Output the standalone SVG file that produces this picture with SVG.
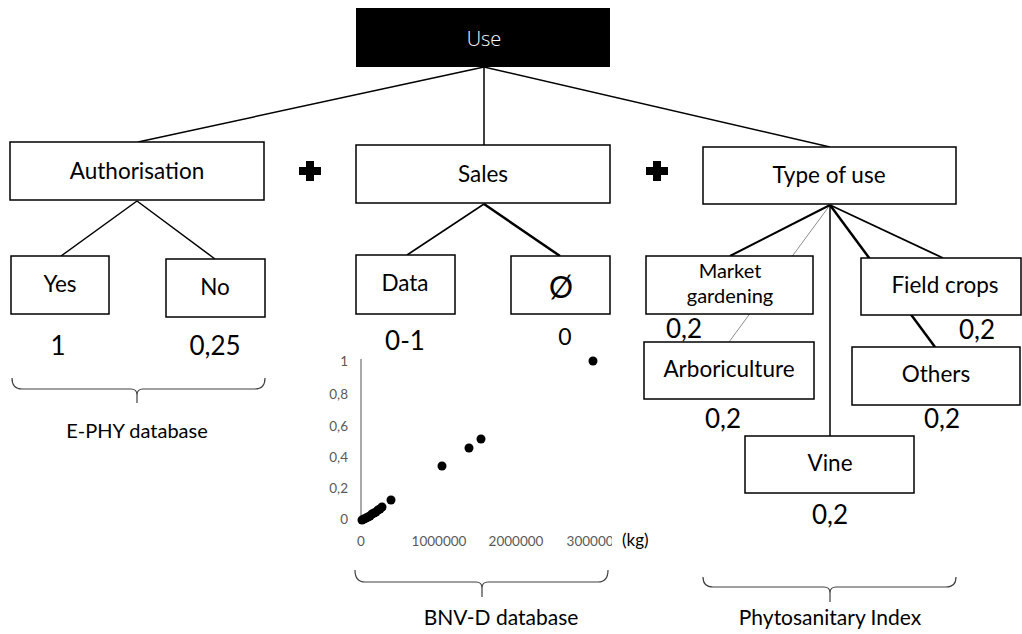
<svg xmlns="http://www.w3.org/2000/svg" width="1022" height="634" viewBox="0 0 1022 634">
<style>
.box{fill:#fff;stroke:#000;stroke-width:1.5}
.lbl{font-family:Lato,"Open Sans",sans-serif;font-size:22.5px;fill:#000;text-anchor:middle}
.num{font-family:Lato,"Open Sans",sans-serif;font-size:26px;fill:#000;text-anchor:middle}
.cap{font-family:Lato,"Open Sans",sans-serif;font-size:21px;fill:#000;text-anchor:middle}
.ax{font-family:Lato,"Open Sans",sans-serif;font-size:13.5px;fill:#595959}
.ln{stroke:#000;stroke-width:1.5;fill:none}
.brace{stroke:#404040;stroke-width:1.2;fill:none}
.dot{fill:#000}
</style>
<defs>
<g id="plus"><rect x="-11" y="-4" width="22" height="8"/><rect x="-4" y="-10" width="8" height="20"/></g>
<clipPath id="clipx"><rect x="300" y="520" width="312" height="40"/></clipPath>
</defs>

<g id="connectors">
<line class="ln" x1="484" y1="67" x2="138" y2="142"/>
<line class="ln" x1="484" y1="67" x2="484" y2="145"/>
<line class="ln" x1="484" y1="67" x2="830" y2="147"/>
<line class="ln" x1="137" y1="201" x2="61" y2="256"/>
<line class="ln" x1="137" y1="201" x2="215" y2="259"/>
<line class="ln" x1="484" y1="204" x2="407" y2="255"/>
<line class="ln" x1="484" y1="204" x2="560" y2="256" style="stroke-width:2.5"/>
<line class="ln" x1="830" y1="205" x2="729" y2="342" style="stroke:#808080;stroke-width:0.9"/>
<line class="ln" x1="830" y1="205" x2="935" y2="347" style="stroke-width:2.5"/>
<line class="ln" x1="830" y1="205" x2="730" y2="256" style="stroke-width:2"/>
<line class="ln" x1="830" y1="205" x2="830" y2="436"/>
<line class="ln" x1="830" y1="205" x2="943" y2="258" style="stroke-width:1.8"/>
</g>

<g id="use">
<rect x="356" y="8" width="254" height="59" fill="#000"/>
<text x="484" y="46" style="font-family:'Open Sans',sans-serif;font-weight:300;font-size:20px;fill:#ffffff;text-anchor:middle">Use</text>
</g>

<g id="authorisation">
<rect class="box" x="10" y="142" width="254" height="58"/>
<text class="lbl" x="137" y="179">Authorisation</text>
</g>
<g id="yes">
<rect class="box" x="11" y="256" width="98" height="58"/>
<text class="lbl" x="60" y="292">Yes</text>
<text class="num" x="58" y="355">1</text>
</g>
<g id="no">
<rect class="box" x="166" y="259" width="99" height="58"/>
<text class="lbl" x="215" y="295">No</text>
<text class="num" x="215" y="355">0,25</text>
</g>

<use href="#plus" x="310" y="171"/>
<use href="#plus" x="657" y="171"/>

<g id="sales">
<rect class="box" x="356" y="145" width="254" height="58"/>
<text class="lbl" x="483" y="182">Sales</text>
</g>
<g id="data">
<rect class="box" x="356" y="255" width="99" height="59"/>
<text class="lbl" x="405" y="291">Data</text>
<text class="num" x="405" y="350">0-1</text>
</g>
<g id="empty">
<rect class="box" x="511" y="256" width="99" height="58"/>
<text class="lbl" x="561" y="298" style="font-size:30px">Ø</text>
<text class="num" x="565" y="345" style="font-size:23px">0</text>
</g>

<g id="typeofuse">
<rect class="box" x="703" y="147" width="253" height="57"/>
<text class="lbl" x="829" y="183">Type of use</text>
</g>
<g id="market">
<rect class="box" x="646" y="256" width="167" height="58"/>
<text class="lbl" x="730" y="278" style="font-size:20px">Market</text>
<text class="lbl" x="730" y="303" style="font-size:20px">gardening</text>
<text class="num" x="684" y="338">0,2</text>
</g>
<g id="fieldcrops">
<rect class="box" x="861" y="258" width="160" height="57"/>
<text class="lbl" x="945" y="293">Field crops</text>
<text class="num" x="977" y="339">0,2</text>
</g>
<g id="arbo">
<rect class="box" x="644" y="342" width="170" height="57"/>
<text class="lbl" x="729" y="377">Arboriculture</text>
<text class="num" x="723" y="428">0,2</text>
</g>
<g id="others">
<rect class="box" x="852" y="347" width="168" height="58"/>
<text class="lbl" x="936" y="382">Others</text>
<text class="num" x="942" y="428">0,2</text>
</g>
<g id="vine">
<rect class="box" x="745" y="436" width="169" height="57"/>
<text class="lbl" x="830" y="471">Vine</text>
<text class="num" x="830" y="524">0,2</text>
</g>

<g id="scatter">
<line x1="361" y1="359" x2="361" y2="524" stroke="#8c8c8c" stroke-width="1.5"/>
<g class="ax" text-anchor="end">
<text x="348" y="366">1</text>
<text x="348" y="399">0,8</text>
<text x="348" y="431">0,6</text>
<text x="348" y="462">0,4</text>
<text x="348" y="493">0,2</text>
<text x="348" y="524">0</text>
</g>
<g class="ax" text-anchor="middle" clip-path="url(#clipx)">
<text x="361" y="546">0</text>
<text x="439" y="546">1000000</text>
<text x="516" y="546">2000000</text>
<text x="594" y="546">3000000</text>
</g>
<text x="622" y="546" style="font-family:Lato,'Open Sans',sans-serif;font-size:17px;fill:#000">(kg)</text>
<g class="dot">
<circle cx="362" cy="520" r="4.5"/><circle cx="364" cy="519" r="4.5"/><circle cx="366" cy="518" r="4.5"/>
<circle cx="368" cy="517" r="4.5"/><circle cx="370" cy="516" r="4.5"/><circle cx="372" cy="514" r="4.5"/>
<circle cx="374" cy="513" r="4.5"/><circle cx="376" cy="512" r="4.5"/><circle cx="378" cy="510" r="4.5"/>
<circle cx="380" cy="509" r="4.5"/><circle cx="382" cy="507" r="4.5"/>
<circle cx="391" cy="500" r="4.5"/><circle cx="442" cy="466" r="4.5"/><circle cx="469" cy="448" r="4.5"/>
<circle cx="481" cy="439" r="4.5"/><circle cx="593" cy="361" r="4.5"/>
</g>
</g>

<g id="ephy">
<path class="brace" d="M12,378 Q12,389 22,389 L131,389 Q137,389 137,395 L137,403 M137,395 Q137,389 143,389 L255,389 Q265,389 265,378"/>
<text class="cap" x="137" y="438" style="font-size:20px">E-PHY database</text>
</g>
<g id="bnvd">
<path class="brace" d="M355,570 Q355,582 365,582 L476,582 Q482,582 482,588 L482,597 M482,588 Q482,582 488,582 L598,582 Q608,582 608,570"/>
<text class="cap" x="501" y="625">BNV-D database</text>
</g>
<g id="phyto">
<path class="brace" d="M703,577 Q703,587 713,587 L824,587 Q830,587 830,593 L830,602 M830,593 Q830,587 836,587 L946,587 Q956,587 956,577"/>
<text class="cap" x="830" y="625">Phytosanitary Index</text>
</g>
</svg>
